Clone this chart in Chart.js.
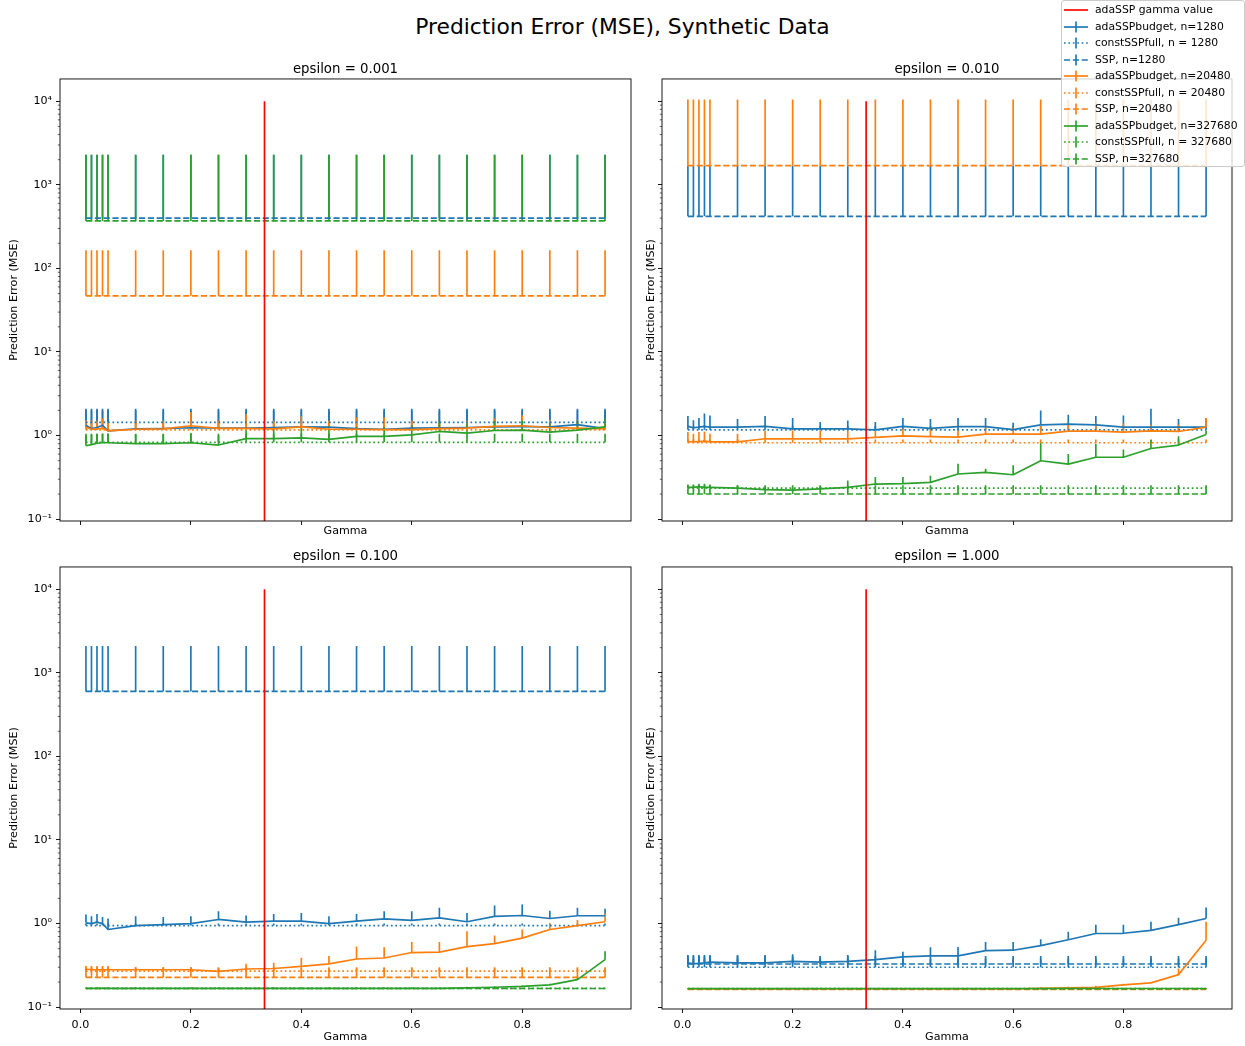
<!DOCTYPE html>
<html>
<head>
<meta charset="utf-8">
<title>Prediction Error (MSE), Synthetic Data</title>
<script src="https://cdn.jsdelivr.net/npm/chart.js@4.4.1/dist/chart.umd.min.js"></script>
<style>
  html, body { margin: 0; padding: 0; background: #fff; }
  #fig { position: relative; width: 1245px; height: 1046px; font-family: "DejaVu Sans", sans-serif; color: #000; overflow: hidden; }
  #fig canvas { position: absolute; }
  #suptitle { position: absolute; left: 0; top: 14px; width: 1245px; text-align: center; font-size: 21.8px; line-height: 26px; }
  #legend { position: absolute; left: 1061px; top: 0px; width: 182px; height: 165px; background: rgba(255,255,255,0.8);
            border: 1px solid #cccccc; border-radius: 3px; z-index: 5; }
  .legend-row { position: absolute; left: 0; height: 16px; width: 182px; }
  .legend-row svg { position: absolute; left: 1px; top: 0; }
  .legend-row span { position: absolute; left: 33px; top: 0; font-size: 10.8px; line-height: 16px; white-space: nowrap; }
</style>
</head>
<body>
<div id="fig">
  <div id="suptitle">Prediction Error (MSE), Synthetic Data</div>
  <canvas id="c0" width="640" height="495" style="left:0px;top:50px"></canvas>
  <canvas id="c1" width="605" height="495" style="left:640px;top:50px"></canvas>
  <canvas id="c2" width="640" height="509" style="left:0px;top:537px"></canvas>
  <canvas id="c3" width="605" height="509" style="left:640px;top:537px"></canvas>
  <div id="legend"></div>
</div>
<script>
// gamma grid and axes
const gammas = [0.01, 0.02, 0.03, 0.04, 0.05, 0.1, 0.15, 0.2, 0.25, 0.3, 0.35, 0.4, 0.45, 0.5, 0.55, 0.6, 0.65, 0.7, 0.75, 0.8, 0.85, 0.9, 0.95];
const xTicks = [0.0, 0.2, 0.4, 0.6, 0.8];
const yMajorTicks = [0.1, 1, 10, 100, 1000, 10000];
const yTickLabels = ["10\u207B\u00B9", "10\u2070", "10\u00B9", "10\u00B2", "10\u00B3", "10\u2074"];
const epsilonTitles = ["epsilon = 0.001", "epsilon = 0.010", "epsilon = 0.100", "epsilon = 1.000"];
const seriesLabels = [
  "adaSSPbudget, n=1280", "constSSPfull, n = 1280", "SSP, n=1280",
  "adaSSPbudget, n=20480", "constSSPfull, n = 20480", "SSP, n=20480",
  "adaSSPbudget, n=327680", "constSSPfull, n = 327680", "SSP, n=327680"
];
const adaGamma = 0.3333;
const redLineY = [0.01, 10000];

// epsilon = 0.001  (values, then upper end of the error bar)
const a_ada1280 = [1.33, 1.21, 1.25, 1.33, 1.14, 1.2, 1.21, 1.24, 1.23, 1.23, 1.25, 1.27, 1.26, 1.21, 1.19, 1.23, 1.24, 1.25, 1.27, 1.28, 1.27, 1.35, 1.21];
const a_ada1280Hi = [2.0, 2.0, 2.0, 2.0, 2.0, 2.0, 2.0, 2.0, 2.0, 2.0, 2.0, 2.0, 2.0, 2.0, 2.0, 2.0, 2.0, 2.0, 2.0, 2.0, 2.0, 2.0, 2.0];
const a_const1280 = [1.44, 1.44, 1.44, 1.44, 1.44, 1.44, 1.44, 1.44, 1.44, 1.44, 1.44, 1.44, 1.44, 1.44, 1.44, 1.44, 1.44, 1.44, 1.44, 1.44, 1.44, 1.44, 1.44];
const a_const1280Hi = [2.1, 2.1, 2.1, 2.1, 2.1, 2.1, 2.1, 2.1, 2.1, 2.1, 2.1, 2.1, 2.1, 2.1, 2.1, 2.1, 2.1, 2.1, 2.1, 2.1, 2.1, 2.1, 2.1];
const a_ssp1280 = [400, 400, 400, 400, 400, 400, 400, 400, 400, 400, 400, 400, 400, 400, 400, 400, 400, 400, 400, 400, 400, 400, 400];
const a_ssp1280Hi = [2300, 2300, 2300, 2300, 2300, 2300, 2300, 2300, 2300, 2300, 2300, 2300, 2300, 2300, 2300, 2300, 2300, 2300, 2300, 2300, 2300, 2300, 2300];
const a_ada20480 = [1.25, 1.19, 1.2, 1.23, 1.14, 1.19, 1.2, 1.31, 1.22, 1.22, 1.2, 1.27, 1.19, 1.19, 1.18, 1.18, 1.21, 1.23, 1.29, 1.31, 1.25, 1.23, 1.2];
const a_ada20480Hi = [1.52, 1.5, 1.5, 1.6, 1.45, 1.5, 1.5, 1.92, 1.5, 1.8, 1.5, 1.71, 1.5, 1.65, 1.65, 1.5, 1.45, 1.5, 1.6, 1.75, 1.55, 1.5, 1.45];
const a_const20480 = [1.17, 1.17, 1.17, 1.17, 1.17, 1.17, 1.17, 1.17, 1.17, 1.17, 1.17, 1.17, 1.17, 1.17, 1.17, 1.17, 1.17, 1.17, 1.17, 1.17, 1.17, 1.17, 1.17];
const a_const20480Hi = [1.45, 1.45, 1.45, 1.45, 1.45, 1.45, 1.45, 1.45, 1.45, 1.45, 1.45, 1.45, 1.45, 1.45, 1.45, 1.45, 1.45, 1.45, 1.45, 1.45, 1.45, 1.45, 1.45];
const a_ssp20480 = [47, 47, 47, 47, 47, 47, 47, 47, 47, 47, 47, 47, 47, 47, 47, 47, 47, 47, 47, 47, 47, 47, 47];
const a_ssp20480Hi = [165, 165, 165, 165, 165, 165, 165, 165, 165, 165, 165, 165, 165, 165, 165, 165, 165, 165, 165, 165, 165, 165, 165];
const a_ada327680 = [0.755, 0.78, 0.81, 0.82, 0.82, 0.8, 0.8, 0.82, 0.77, 0.92, 0.92, 0.94, 0.9, 0.98, 0.98, 1.02, 1.12, 1.07, 1.15, 1.16, 1.1, 1.16, 1.27];
const a_ada327680Hi = [1.0, 1.02, 1.05, 1.06, 1.06, 1.04, 1.04, 1.07, 1.0, 1.2, 1.2, 1.22, 1.17, 1.27, 1.27, 1.33, 1.46, 1.39, 1.5, 1.5, 1.43, 1.5, 1.6];
const a_const327680 = [0.83, 0.83, 0.83, 0.83, 0.83, 0.83, 0.83, 0.83, 0.83, 0.83, 0.83, 0.83, 0.83, 0.83, 0.83, 0.83, 0.83, 0.83, 0.83, 0.83, 0.83, 0.83, 0.83];
const a_const327680Hi = [1.05, 1.05, 1.05, 1.05, 1.05, 1.05, 1.05, 1.05, 1.05, 1.05, 1.05, 1.05, 1.05, 1.05, 1.05, 1.05, 1.05, 1.05, 1.05, 1.05, 1.05, 1.05, 1.05];
const a_ssp327680 = [370, 370, 370, 370, 370, 370, 370, 370, 370, 370, 370, 370, 370, 370, 370, 370, 370, 370, 370, 370, 370, 370, 370];
const a_ssp327680Hi = [2300, 2300, 2300, 2300, 2300, 2300, 2300, 2300, 2300, 2300, 2300, 2300, 2300, 2300, 2300, 2300, 2300, 2300, 2300, 2300, 2300, 2300, 2300];

// epsilon = 0.010
const b_ada1280 = [1.29, 1.24, 1.26, 1.29, 1.26, 1.26, 1.29, 1.2, 1.2, 1.2, 1.17, 1.29, 1.22, 1.28, 1.28, 1.18, 1.34, 1.37, 1.34, 1.26, 1.26, 1.26, 1.26];
const b_ada1280Hi = [1.71, 1.53, 1.62, 1.84, 1.74, 1.58, 1.71, 1.62, 1.45, 1.51, 1.45, 1.62, 1.58, 1.62, 1.62, 1.42, 1.99, 1.78, 1.71, 1.74, 2.1, 1.58, 1.62];
const b_const1280 = [1.17, 1.17, 1.17, 1.17, 1.17, 1.17, 1.17, 1.17, 1.17, 1.17, 1.17, 1.17, 1.17, 1.17, 1.17, 1.17, 1.17, 1.17, 1.17, 1.17, 1.17, 1.17, 1.17];
const b_const1280Hi = [1.3, 1.3, 1.3, 1.3, 1.3, 1.3, 1.3, 1.3, 1.3, 1.3, 1.3, 1.3, 1.3, 1.3, 1.3, 1.3, 1.3, 1.3, 1.3, 1.3, 1.3, 1.3, 1.3];
const b_ssp1280 = [420, 420, 420, 420, 420, 420, 420, 420, 420, 420, 420, 420, 420, 420, 420, 420, 420, 420, 420, 420, 420, 420, 420];
const b_ssp1280Hi = [1700, 1700, 1700, 1700, 1700, 1700, 1700, 1700, 1700, 1700, 1700, 1700, 1700, 1700, 1700, 1700, 1700, 1700, 1700, 1700, 1700, 1700, 1700];
const b_ada20480 = [0.85, 0.84, 0.85, 0.86, 0.84, 0.84, 0.915, 0.915, 0.915, 0.915, 0.95, 0.99, 0.97, 0.96, 1.04, 1.04, 1.04, 1.13, 1.13, 1.1, 1.14, 1.12, 1.26];
const b_ada20480Hi = [1.1, 1.05, 1.1, 1.12, 1.05, 1.05, 1.15, 1.15, 1.15, 1.15, 1.15, 1.2, 1.2, 1.2, 1.25, 1.25, 1.3, 1.4, 1.4, 1.4, 1.35, 1.35, 1.62];
const b_const20480 = [0.82, 0.82, 0.82, 0.82, 0.82, 0.82, 0.82, 0.82, 0.82, 0.82, 0.82, 0.82, 0.82, 0.82, 0.82, 0.82, 0.82, 0.82, 0.82, 0.82, 0.82, 0.82, 0.82];
const b_const20480Hi = [0.9, 0.9, 0.9, 0.9, 0.9, 0.9, 0.9, 0.9, 0.9, 0.9, 0.9, 0.9, 0.9, 0.9, 0.9, 0.9, 0.9, 0.9, 0.9, 0.9, 0.9, 0.9, 0.9];
const b_ssp20480 = [1700, 1700, 1700, 1700, 1700, 1700, 1700, 1700, 1700, 1700, 1700, 1700, 1700, 1700, 1700, 1700, 1700, 1700, 1700, 1700, 1700, 1700, 1700];
const b_ssp20480Hi = [10500, 10500, 10500, 10500, 10500, 10500, 10500, 10500, 10500, 10500, 10500, 10500, 10500, 10500, 10500, 10500, 10500, 10500, 10500, 10500, 10500, 10500, 10500];
const b_ada327680 = [0.24, 0.24, 0.245, 0.24, 0.24, 0.235, 0.226, 0.222, 0.23, 0.24, 0.263, 0.266, 0.275, 0.347, 0.363, 0.34, 0.5, 0.456, 0.55, 0.55, 0.7, 0.77, 1.03];
const b_ada327680Hi = [0.26, 0.26, 0.265, 0.265, 0.26, 0.255, 0.24, 0.235, 0.245, 0.29, 0.32, 0.32, 0.33, 0.46, 0.4, 0.44, 0.82, 0.6, 0.8, 0.68, 0.89, 0.98, 1.15];
const b_const327680 = [0.235, 0.235, 0.235, 0.235, 0.235, 0.235, 0.235, 0.235, 0.235, 0.235, 0.235, 0.235, 0.235, 0.235, 0.235, 0.235, 0.235, 0.235, 0.235, 0.235, 0.235, 0.235, 0.235];
const b_const327680Hi = [0.255, 0.255, 0.255, 0.255, 0.255, 0.255, 0.255, 0.255, 0.255, 0.255, 0.255, 0.255, 0.255, 0.255, 0.255, 0.255, 0.255, 0.255, 0.255, 0.255, 0.255, 0.255, 0.255];
const b_ssp327680 = [0.2, 0.2, 0.2, 0.2, 0.2, 0.2, 0.2, 0.2, 0.2, 0.2, 0.2, 0.2, 0.2, 0.2, 0.2, 0.2, 0.2, 0.2, 0.2, 0.2, 0.2, 0.2, 0.2];
const b_ssp327680Hi = [0.235, 0.235, 0.235, 0.235, 0.235, 0.235, 0.235, 0.235, 0.235, 0.235, 0.235, 0.235, 0.235, 0.235, 0.235, 0.235, 0.235, 0.235, 0.235, 0.235, 0.235, 0.235, 0.235];

// epsilon = 0.100
const c_ada1280 = [1.02, 1.0, 1.04, 1.0, 0.85, 0.945, 0.97, 1.0, 1.12, 1.04, 1.07, 1.07, 1.0, 1.07, 1.14, 1.09, 1.17, 1.05, 1.22, 1.25, 1.15, 1.24, 1.24];
const c_ada1280Hi = [1.28, 1.22, 1.3, 1.2, 1.15, 1.22, 1.2, 1.22, 1.4, 1.25, 1.3, 1.34, 1.22, 1.3, 1.4, 1.4, 1.55, 1.34, 1.64, 1.69, 1.42, 1.55, 1.5];
const c_const1280 = [0.945, 0.945, 0.945, 0.945, 0.945, 0.945, 0.945, 0.945, 0.945, 0.945, 0.945, 0.945, 0.945, 0.945, 0.945, 0.945, 0.945, 0.945, 0.945, 0.945, 0.945, 0.945, 0.945];
const c_const1280Hi = [1.0, 1.0, 1.0, 1.0, 1.0, 1.0, 1.0, 1.0, 1.0, 1.0, 1.0, 1.0, 1.0, 1.0, 1.0, 1.0, 1.0, 1.0, 1.0, 1.0, 1.0, 1.0, 1.0];
const c_ssp1280 = [600, 600, 600, 600, 600, 600, 600, 600, 600, 600, 600, 600, 600, 600, 600, 600, 600, 600, 600, 600, 600, 600, 600];
const c_ssp1280Hi = [2100, 2100, 2100, 2100, 2100, 2100, 2100, 2100, 2100, 2100, 2100, 2100, 2100, 2100, 2100, 2100, 2100, 2100, 2100, 2100, 2100, 2100, 2100];
const c_ada20480 = [0.286, 0.28, 0.28, 0.28, 0.28, 0.28, 0.28, 0.28, 0.268, 0.286, 0.29, 0.307, 0.33, 0.377, 0.387, 0.45, 0.455, 0.53, 0.575, 0.67, 0.85, 0.945, 1.05];
const c_ada20480Hi = [0.31, 0.31, 0.31, 0.31, 0.31, 0.3, 0.3, 0.3, 0.29, 0.33, 0.34, 0.39, 0.41, 0.53, 0.52, 0.6, 0.6, 0.81, 0.72, 0.85, 1.0, 1.1, 1.32];
const c_const20480 = [0.27, 0.27, 0.27, 0.27, 0.27, 0.27, 0.27, 0.27, 0.27, 0.27, 0.27, 0.27, 0.27, 0.27, 0.27, 0.27, 0.27, 0.27, 0.27, 0.27, 0.27, 0.27, 0.27];
const c_const20480Hi = [0.3, 0.3, 0.3, 0.3, 0.3, 0.3, 0.3, 0.3, 0.3, 0.3, 0.3, 0.3, 0.3, 0.3, 0.3, 0.3, 0.3, 0.3, 0.3, 0.3, 0.3, 0.3, 0.3];
const c_ssp20480 = [0.227, 0.227, 0.227, 0.227, 0.227, 0.227, 0.227, 0.227, 0.227, 0.227, 0.227, 0.227, 0.227, 0.227, 0.227, 0.227, 0.227, 0.227, 0.227, 0.227, 0.227, 0.227, 0.227];
const c_ssp20480Hi = [0.29, 0.29, 0.29, 0.29, 0.29, 0.29, 0.29, 0.29, 0.29, 0.29, 0.29, 0.29, 0.29, 0.29, 0.29, 0.29, 0.29, 0.29, 0.29, 0.29, 0.29, 0.29, 0.29];
const c_ada327680 = [0.168, 0.168, 0.168, 0.168, 0.168, 0.168, 0.168, 0.168, 0.168, 0.168, 0.168, 0.168, 0.168, 0.168, 0.168, 0.168, 0.168, 0.17, 0.173, 0.177, 0.185, 0.213, 0.37];
const c_ada327680Hi = [0.172, 0.172, 0.172, 0.172, 0.172, 0.172, 0.172, 0.172, 0.172, 0.172, 0.172, 0.172, 0.172, 0.172, 0.172, 0.172, 0.172, 0.175, 0.178, 0.182, 0.19, 0.23, 0.465];
const c_const327680 = [0.168, 0.168, 0.168, 0.168, 0.168, 0.168, 0.168, 0.168, 0.168, 0.168, 0.168, 0.168, 0.168, 0.168, 0.168, 0.168, 0.168, 0.168, 0.168, 0.168, 0.168, 0.168, 0.168];
const c_const327680Hi = [0.171, 0.171, 0.171, 0.171, 0.171, 0.171, 0.171, 0.171, 0.171, 0.171, 0.171, 0.171, 0.171, 0.171, 0.171, 0.171, 0.171, 0.171, 0.171, 0.171, 0.171, 0.171, 0.171];
const c_ssp327680 = [0.167, 0.167, 0.167, 0.167, 0.167, 0.167, 0.167, 0.167, 0.167, 0.167, 0.167, 0.167, 0.167, 0.167, 0.167, 0.167, 0.167, 0.167, 0.167, 0.167, 0.167, 0.167, 0.167];
const c_ssp327680Hi = [0.17, 0.17, 0.17, 0.17, 0.17, 0.17, 0.17, 0.17, 0.17, 0.17, 0.17, 0.17, 0.17, 0.17, 0.17, 0.17, 0.17, 0.17, 0.17, 0.17, 0.17, 0.17, 0.17];

// epsilon = 1.000
const d_ada1280 = [0.338, 0.33, 0.335, 0.338, 0.345, 0.338, 0.338, 0.353, 0.345, 0.353, 0.37, 0.4, 0.41, 0.41, 0.475, 0.48, 0.545, 0.64, 0.76, 0.765, 0.83, 0.97, 1.15];
const d_ada1280Hi = [0.42, 0.42, 0.42, 0.42, 0.42, 0.42, 0.42, 0.43, 0.4, 0.42, 0.48, 0.46, 0.52, 0.525, 0.6, 0.6, 0.65, 0.8, 0.97, 0.97, 1.05, 1.17, 1.56];
const d_const1280 = [0.3, 0.3, 0.3, 0.3, 0.3, 0.3, 0.3, 0.3, 0.3, 0.3, 0.3, 0.3, 0.3, 0.3, 0.3, 0.3, 0.3, 0.3, 0.3, 0.3, 0.3, 0.3, 0.3];
const d_const1280Hi = [0.38, 0.38, 0.38, 0.38, 0.38, 0.38, 0.38, 0.38, 0.38, 0.38, 0.38, 0.38, 0.38, 0.38, 0.38, 0.38, 0.38, 0.38, 0.38, 0.38, 0.38, 0.38, 0.38];
const d_ssp1280 = [0.328, 0.328, 0.328, 0.328, 0.328, 0.328, 0.328, 0.328, 0.328, 0.328, 0.328, 0.328, 0.328, 0.328, 0.328, 0.328, 0.328, 0.328, 0.328, 0.328, 0.328, 0.328, 0.328];
const d_ssp1280Hi = [0.41, 0.41, 0.41, 0.41, 0.41, 0.41, 0.41, 0.41, 0.41, 0.41, 0.41, 0.41, 0.41, 0.41, 0.41, 0.41, 0.41, 0.41, 0.41, 0.41, 0.41, 0.41, 0.41];
const d_ada20480 = [0.165, 0.165, 0.165, 0.165, 0.165, 0.165, 0.165, 0.165, 0.165, 0.165, 0.165, 0.165, 0.165, 0.165, 0.165, 0.165, 0.168, 0.17, 0.172, 0.185, 0.195, 0.245, 0.63];
const d_ada20480Hi = [0.168, 0.168, 0.168, 0.168, 0.168, 0.168, 0.168, 0.168, 0.168, 0.168, 0.168, 0.168, 0.168, 0.168, 0.168, 0.168, 0.173, 0.175, 0.18, 0.19, 0.2, 0.29, 1.05];
const d_const20480 = [0.165, 0.165, 0.165, 0.165, 0.165, 0.165, 0.165, 0.165, 0.165, 0.165, 0.165, 0.165, 0.165, 0.165, 0.165, 0.165, 0.165, 0.165, 0.165, 0.165, 0.165, 0.165, 0.165];
const d_const20480Hi = [0.167, 0.167, 0.167, 0.167, 0.167, 0.167, 0.167, 0.167, 0.167, 0.167, 0.167, 0.167, 0.167, 0.167, 0.167, 0.167, 0.167, 0.167, 0.167, 0.167, 0.167, 0.167, 0.167];
const d_ssp20480 = [0.163, 0.163, 0.163, 0.163, 0.163, 0.163, 0.163, 0.163, 0.163, 0.163, 0.163, 0.163, 0.163, 0.163, 0.163, 0.163, 0.163, 0.163, 0.163, 0.163, 0.163, 0.163, 0.163];
const d_ssp20480Hi = [0.165, 0.165, 0.165, 0.165, 0.165, 0.165, 0.165, 0.165, 0.165, 0.165, 0.165, 0.165, 0.165, 0.165, 0.165, 0.165, 0.165, 0.165, 0.165, 0.165, 0.165, 0.165, 0.165];
const d_ada327680 = [0.167, 0.167, 0.167, 0.167, 0.167, 0.167, 0.167, 0.167, 0.167, 0.167, 0.167, 0.167, 0.167, 0.167, 0.167, 0.167, 0.167, 0.167, 0.167, 0.167, 0.167, 0.167, 0.167];
const d_ada327680Hi = [0.169, 0.169, 0.169, 0.169, 0.169, 0.169, 0.169, 0.169, 0.169, 0.169, 0.169, 0.169, 0.169, 0.169, 0.169, 0.169, 0.169, 0.169, 0.169, 0.169, 0.169, 0.169, 0.169];
const d_const327680 = [0.167, 0.167, 0.167, 0.167, 0.167, 0.167, 0.167, 0.167, 0.167, 0.167, 0.167, 0.167, 0.167, 0.167, 0.167, 0.167, 0.167, 0.167, 0.167, 0.167, 0.167, 0.167, 0.167];
const d_const327680Hi = [0.168, 0.168, 0.168, 0.168, 0.168, 0.168, 0.168, 0.168, 0.168, 0.168, 0.168, 0.168, 0.168, 0.168, 0.168, 0.168, 0.168, 0.168, 0.168, 0.168, 0.168, 0.168, 0.168];
const d_ssp327680 = [0.166, 0.166, 0.166, 0.166, 0.166, 0.166, 0.166, 0.166, 0.166, 0.166, 0.166, 0.166, 0.166, 0.166, 0.166, 0.166, 0.166, 0.166, 0.166, 0.166, 0.166, 0.166, 0.166];
const d_ssp327680Hi = [0.168, 0.168, 0.168, 0.168, 0.168, 0.168, 0.168, 0.168, 0.168, 0.168, 0.168, 0.168, 0.168, 0.168, 0.168, 0.168, 0.168, 0.168, 0.168, 0.168, 0.168, 0.168, 0.168];

const BLUE = "#1f77b4";
const ORANGE = "#ff7f0e";
const GREEN = "#2ca02c";
const RED = "#ff0000";
const LW = 1.67;
const DOTTED = [1.67, 2.75];
const DASHED = [6.17, 2.67];
const X_MIN = -0.037, X_MAX = 0.997;
const Y_MIN = 0.095, Y_MAX = 18500;

const seriesStyles = [
  { color: BLUE, dash: [] }, { color: BLUE, dash: DOTTED }, { color: BLUE, dash: DASHED },
  { color: ORANGE, dash: [] }, { color: ORANGE, dash: DOTTED }, { color: ORANGE, dash: DASHED },
  { color: GREEN, dash: [] }, { color: GREEN, dash: DOTTED }, { color: GREEN, dash: DASHED }
];

const panels = [
  { id: "c0", title: epsilonTitles[0], left: true, bottom: false,
    values: [a_ada1280, a_const1280, a_ssp1280, a_ada20480, a_const20480, a_ssp20480, a_ada327680, a_const327680, a_ssp327680],
    highs: [a_ada1280Hi, a_const1280Hi, a_ssp1280Hi, a_ada20480Hi, a_const20480Hi, a_ssp20480Hi, a_ada327680Hi, a_const327680Hi, a_ssp327680Hi] },
  { id: "c1", title: epsilonTitles[1], left: false, bottom: false,
    values: [b_ada1280, b_const1280, b_ssp1280, b_ada20480, b_const20480, b_ssp20480, b_ada327680, b_const327680, b_ssp327680],
    highs: [b_ada1280Hi, b_const1280Hi, b_ssp1280Hi, b_ada20480Hi, b_const20480Hi, b_ssp20480Hi, b_ada327680Hi, b_const327680Hi, b_ssp327680Hi] },
  { id: "c2", title: epsilonTitles[2], left: true, bottom: true,
    values: [c_ada1280, c_const1280, c_ssp1280, c_ada20480, c_const20480, c_ssp20480, c_ada327680, c_const327680, c_ssp327680],
    highs: [c_ada1280Hi, c_const1280Hi, c_ssp1280Hi, c_ada20480Hi, c_const20480Hi, c_ssp20480Hi, c_ada327680Hi, c_const327680Hi, c_ssp327680Hi] },
  { id: "c3", title: epsilonTitles[3], left: false, bottom: true,
    values: [d_ada1280, d_const1280, d_ssp1280, d_ada20480, d_const20480, d_ssp20480, d_ada327680, d_const327680, d_ssp327680],
    highs: [d_ada1280Hi, d_const1280Hi, d_ssp1280Hi, d_ada20480Hi, d_const20480Hi, d_ssp20480Hi, d_ada327680Hi, d_const327680Hi, d_ssp327680Hi] }
];

Chart.defaults.font.family = "'DejaVu Sans', sans-serif";
Chart.defaults.font.size = 11.1;
Chart.defaults.color = "#000";

// error bars go under the lines, frame and minor log ticks on top
const errorBarPlugin = {
  id: "errorBars",
  beforeDatasetsDraw(chart) {
    const { ctx, chartArea, scales } = chart;
    ctx.save();
    ctx.beginPath();
    ctx.rect(chartArea.left, chartArea.top, chartArea.width, chartArea.height);
    ctx.clip();
    ctx.lineWidth = LW;
    ctx.setLineDash([]);
    chart.data.datasets.forEach((ds) => {
      if (!ds.errHi) return;
      ctx.strokeStyle = ds.borderColor;
      ctx.beginPath();
      ds.data.forEach((p, i) => {
        const x = scales.x.getPixelForValue(p.x);
        ctx.moveTo(x, scales.y.getPixelForValue(p.y));
        ctx.lineTo(x, scales.y.getPixelForValue(ds.errHi[i]));
      });
      ctx.stroke();
    });
    ctx.restore();
  },
  afterDraw(chart) {
    const { ctx, chartArea, scales } = chart;
    ctx.save();
    ctx.strokeStyle = "#000";
    ctx.lineWidth = 0.9;
    ctx.setLineDash([]);
    ctx.strokeRect(chartArea.left, chartArea.top, chartArea.width, chartArea.height);
    ctx.lineWidth = 0.6;
    ctx.beginPath();
    for (let k = -2; k <= 4; k++) {
      for (let m = 2; m <= 9; m++) {
        const v = m * Math.pow(10, k);
        if (v < Y_MIN || v > Y_MAX) continue;
        const y = scales.y.getPixelForValue(v);
        ctx.moveTo(chartArea.left - 2.2, y);
        ctx.lineTo(chartArea.left, y);
      }
    }
    ctx.stroke();
    ctx.restore();
  }
};

function makeChart(panel) {
  const datasets = panel.values.map((vals, i) => ({
    label: seriesLabels[i],
    data: gammas.map((g, j) => ({ x: g, y: vals[j] })),
    errHi: panel.highs[i],
    borderColor: seriesStyles[i].color,
    borderDash: seriesStyles[i].dash,
    borderWidth: LW,
    borderJoinStyle: "round",
    pointRadius: 0,
    pointHoverRadius: 0,
    fill: false,
    tension: 0,
    order: -i
  }));
  datasets.push({
    label: "adaSSP gamma value",
    data: redLineY.map((y) => ({ x: adaGamma, y: y })),
    borderColor: RED,
    borderWidth: LW,
    pointRadius: 0,
    fill: false,
    order: -100
  });

  new Chart(document.getElementById(panel.id), {
    type: "line",
    data: { datasets },
    options: {
      responsive: false,
      animation: false,
      events: [],
      layout: { padding: { left: 0, right: panel.left ? 9 : 13, top: 0, bottom: 0 } },
      plugins: {
        legend: { display: false },
        tooltip: { enabled: false },
        title: {
          display: true,
          text: panel.title,
          fullSize: false,
          color: "#000",
          font: { size: 13.3, weight: "normal" },
          padding: { top: 12, bottom: panel.bottom ? 2 : 1 }
        }
      },
      scales: {
        x: {
          type: "linear",
          min: X_MIN,
          max: X_MAX,
          bounds: "data",
          afterBuildTicks: (s) => { s.ticks = xTicks.map((v) => ({ value: v })); },
          afterFit: (s) => { s.height = panel.bottom ? 37 : 24; },
          ticks: { display: panel.bottom, padding: 5, autoSkip: false, maxRotation: 0, color: "#000",
                   callback: (v) => Number(v).toFixed(1) },
          grid: { drawOnChartArea: false, tickLength: 4, tickColor: "#000", tickWidth: 0.9 },
          border: { display: false },
          title: { display: true, text: "Gamma", color: "#000", font: { size: 11.1 },
                   padding: { top: 0, bottom: panel.bottom ? 2.3 : 7.4 } }
        },
        y: {
          type: "logarithmic",
          min: Y_MIN,
          max: Y_MAX,
          bounds: "data",
          afterBuildTicks: (s) => { s.ticks = yMajorTicks.map((v) => ({ value: v, major: true })); },
          afterFit: (s) => { s.width = panel.left ? 60 : 22; },
          ticks: { display: panel.left, padding: 4, autoSkip: false, color: "#000",
                   callback: (v) => yTickLabels[yMajorTicks.indexOf(v)] },
          grid: { drawOnChartArea: false, tickLength: 4, tickColor: "#000", tickWidth: 0.9 },
          border: { display: false },
          title: { display: true, text: "Prediction Error (MSE)", color: "#000", font: { size: 11.1 },
                   padding: { top: panel.left ? 7.3 : 4.3, bottom: 0 } }
        }
      }
    },
    plugins: [errorBarPlugin]
  });
}

panels.forEach(makeChart);

// figure legend (upper right)
const legendItems = [{ label: "adaSSP gamma value", color: RED, dash: [], bar: false }].concat(
  seriesLabels.map((label, i) => ({ label, color: seriesStyles[i].color, dash: seriesStyles[i].dash, bar: true }))
);
const legendBox = document.getElementById("legend");
legendItems.forEach((item, i) => {
  const row = document.createElement("div");
  row.className = "legend-row";
  row.style.top = (1 + 16.5 * i) + "px";
  const dash = item.dash.length ? ` stroke-dasharray="${item.dash.join(" ")}"` : "";
  const bar = item.bar ? `<line x1="13" y1="2.5" x2="13" y2="13.5" stroke="${item.color}" stroke-width="${LW}"/>` : "";
  row.innerHTML = `<svg width="26" height="16"><line x1="1" y1="8" x2="25" y2="8" stroke="${item.color}" stroke-width="${LW}"${dash}/>${bar}</svg><span>${item.label}</span>`;
  legendBox.appendChild(row);
});
</script>
</body>
</html>
